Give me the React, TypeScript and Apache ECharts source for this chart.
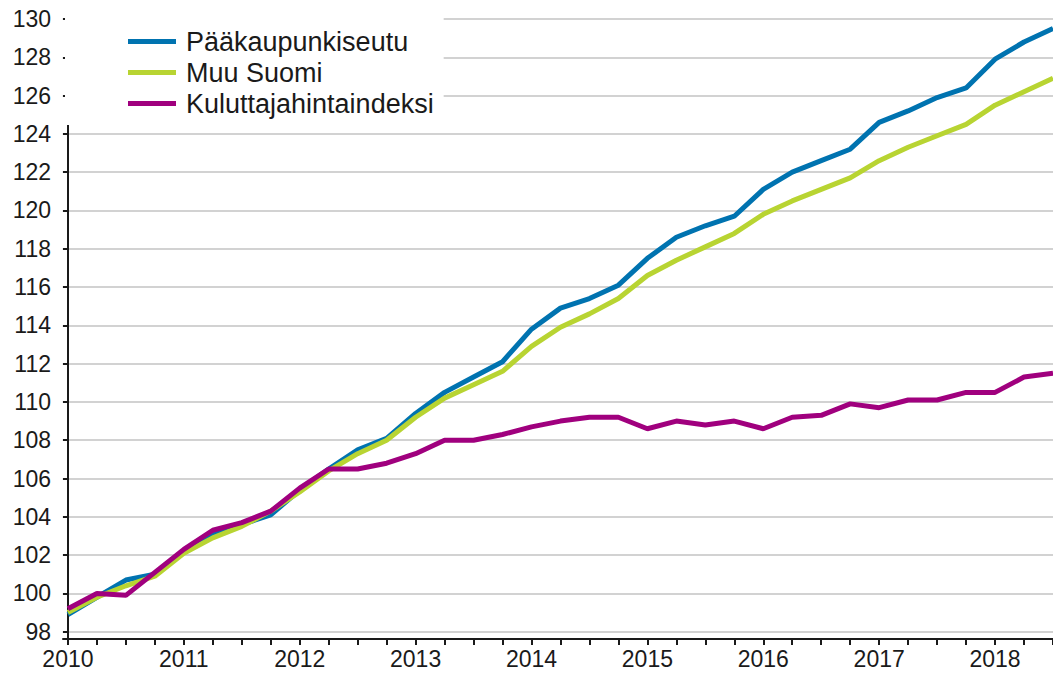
import React, { useEffect, useRef } from "react";
import * as echarts from "echarts";

// Quarterly index, 2010 = 100, 2010Q1 .. 2018Q3
const quarters: string[] = [];
for (let y = 2010; y <= 2018; y++) {
  for (let q = 1; q <= 4; q++) quarters.push(`${y}Q${q}`);
}
const quarterLabels = quarters.slice(0, 35);

const yearLabels = ["2010", "2011", "2012", "2013", "2014", "2015", "2016", "2017", "2018"];
const yTicks = [98, 100, 102, 104, 106, 108, 110, 112, 114, 116, 118, 120, 122, 124, 126, 128, 130];

const seriesNames = ["Pääkaupunkiseutu", "Muu Suomi", "Kuluttajahintaindeksi"];

const paakaupunkiseutu = [
  98.9, 99.8, 100.7, 101.0, 102.2, 103.1, 103.6, 104.1, 105.4, 106.5, 107.5, 108.1,
  109.4, 110.5, 111.3, 112.1, 113.8, 114.9, 115.4, 116.1, 117.5, 118.6, 119.2, 119.7,
  121.1, 122.0, 122.6, 123.2, 124.6, 125.2, 125.9, 126.4, 127.9, 128.8, 129.5,
];
const muuSuomi = [
  99.0, 99.8, 100.4, 100.9, 102.1, 102.9, 103.5, 104.3, 105.3, 106.4, 107.3, 108.0,
  109.2, 110.2, 110.9, 111.6, 112.9, 113.9, 114.6, 115.4, 116.6, 117.4, 118.1, 118.8,
  119.8, 120.5, 121.1, 121.7, 122.6, 123.3, 123.9, 124.5, 125.5, 126.2, 126.9,
];
const kuluttajahintaindeksi = [
  99.2, 100.0, 99.9, 101.1, 102.3, 103.3, 103.7, 104.3, 105.5, 106.5, 106.5, 106.8,
  107.3, 108.0, 108.0, 108.3, 108.7, 109.0, 109.2, 109.2, 108.6, 109.0, 108.8, 109.0,
  108.6, 109.2, 109.3, 109.9, 109.7, 110.1, 110.1, 110.5, 110.5, 111.3, 111.5,
];

const colors = ["#0073b0", "#b8d432", "#a0007e"];
const FONT = '"Liberation Sans", Arial, sans-serif';

export default function App() {
  const ref = useRef<HTMLDivElement>(null);

  useEffect(() => {
    if (!ref.current) return;
    const chart = echarts.init(ref.current, null, { renderer: "svg" });
    const toPairs = (arr: number[]) => arr.map((v, i) => [i, v]);
    const tickIdx = quarterLabels.map((_, i) => i);
    const labelIdx = yearLabels.map((_, i) => i * 4);
    const allSeries = [paakaupunkiseutu, muuSuomi, kuluttajahintaindeksi];

    chart.setOption({
      animation: false,
      backgroundColor: "#ffffff",
      textStyle: { fontFamily: FONT },
      grid: { left: 63, right: -6, top: 19, bottom: 35, containLabel: false },
      legend: {
        data: seriesNames,
        orient: "vertical",
        left: 65,
        top: 8,
        padding: [20, 10, 8, 63],
        backgroundColor: "#ffffff",
        itemGap: 4,
        icon: "rect",
        itemWidth: 48,
        itemHeight: 5,
        textStyle: {
          fontFamily: FONT,
          fontSize: 27,
          lineHeight: 27,
          color: "#1a1a1a",
          padding: [0, 0, 0, 5],
        },
      },
      xAxis: {
        type: "value",
        min: -0.17,
        max: 34,
        axisLine: { show: true, lineStyle: { color: "#1a1a1a", width: 2 } },
        axisTick: {
          show: true,
          customValues: tickIdx,
          length: 6,
          lineStyle: { color: "#1a1a1a", width: 2 },
        },
        axisLabel: {
          customValues: labelIdx,
          formatter: (v: number) => yearLabels[Math.round(v / 4)] ?? "",
          fontFamily: FONT,
          fontSize: 23,
          color: "#1a1a1a",
          margin: 8,
        },
        splitLine: { show: false },
      },
      yAxis: {
        type: "value",
        min: 97.62,
        max: 130,
        axisLine: { show: true, lineStyle: { color: "#1a1a1a", width: 2 } },
        axisTick: {
          show: true,
          customValues: yTicks,
          length: 5,
          lineStyle: { color: "#1a1a1a", width: 2 },
        },
        axisLabel: {
          customValues: yTicks,
          fontFamily: FONT,
          fontSize: 23,
          color: "#1a1a1a",
          margin: 12,
        },
        splitLine: { show: true, lineStyle: { color: "#d2d2d2", width: 2 } },
      },
      series: allSeries.map((arr, k) => ({
        name: seriesNames[k],
        type: "line",
        data: toPairs(arr),
        showSymbol: false,
        symbol: "none",
        color: colors[k],
        lineStyle: { width: 5, color: colors[k] },
        z: 2 + k,
      })),
    });
    return () => chart.dispose();
  }, []);

  return (
    <div style={{ position: "fixed", left: 0, top: 0, width: 1053, height: 674, background: "#fff" }}>
      <div ref={ref} style={{ width: 1053, height: 674 }} />
    </div>
  );
}
